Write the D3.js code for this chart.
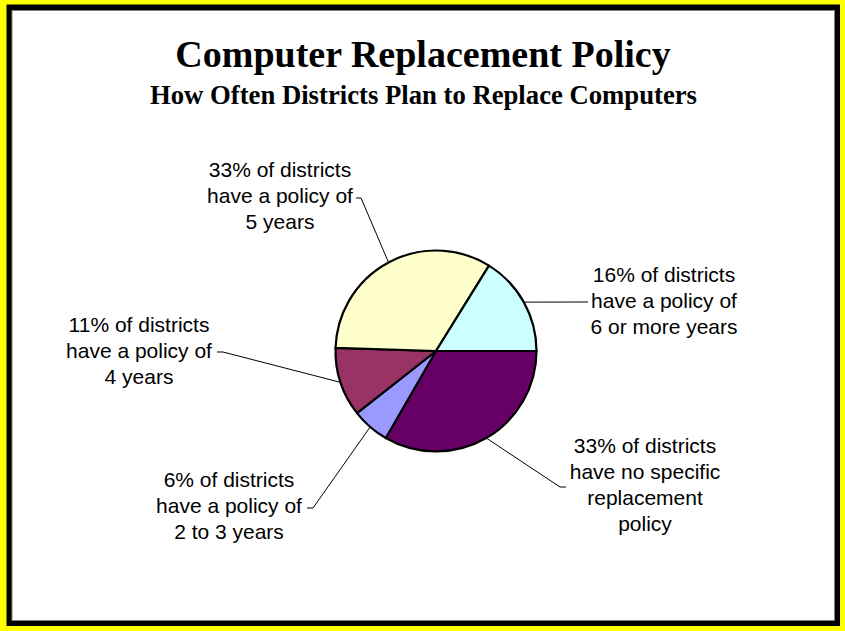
<!DOCTYPE html>
<html><head><meta charset="utf-8">
<script src="https://cdn.jsdelivr.net/npm/d3@7"></script>
<style>html,body{margin:0;padding:0;background:#ffff00;}svg{display:block;}</style>
</head><body>
<svg id="chart" width="845" height="631"></svg>
<script>
// ---- data ----
const categories = ["No specific policy", "2 to 3 years", "4 years", "5 years", "6 or more years"];
const percents = [33, 6, 11, 33, 16];
const labelLines = [
  ["33% of districts", "have no specific", "replacement", "policy"],
  ["6% of districts", "have a policy of", "2 to 3 years"],
  ["11% of districts", "have a policy of", "4 years"],
  ["33% of districts", "have a policy of", "5 years"],
  ["16% of districts", "have a policy of", "6 or more years"]
];
const colors = ["#660066", "#9999ff", "#993366", "#ffffcc", "#ccffff"];
const title = "Computer Replacement Policy";
const subtitle = "How Often Districts Plan to Replace Computers";

// ---- layout (label placement) ----
const labelLayout = [
  {x: 645, y: 453, elbow: [560, 487], end: [566, 487]},
  {x: 229, y: 487, elbow: [313, 508], end: [307, 508]},
  {x: 139, y: 332, elbow: [223, 352], end: [217, 352]},
  {x: 280, y: 177, elbow: [361, 198], end: [356, 198]},
  {x: 664, y: 282, elbow: [588, 302], end: [588, 302]}
];

const svg = d3.select("#chart");
svg.append("rect").attr("x",0).attr("y",0).attr("width",845).attr("height",631).attr("fill","#ffff00");
svg.append("rect").attr("x",6.5).attr("y",4.5).attr("width",833.5).attr("height",621.5).attr("fill","#000");
svg.append("rect").attr("x",12).attr("y",10.5).attr("width",822.5).attr("height",610).attr("fill","#fff")
  .attr("stroke","#808080").attr("stroke-width",1);

svg.append("text").attr("x",423).attr("y",67).attr("text-anchor","middle")
  .attr("font-family","'Liberation Serif','Times New Roman',serif").attr("font-weight","bold")
  .attr("font-size",38).text(title);
svg.append("text").attr("x",423.5).attr("y",104).attr("text-anchor","middle")
  .attr("font-family","'Liberation Serif','Times New Roman',serif").attr("font-weight","bold")
  .attr("font-size",26.7).text(subtitle);

const cx = 436, cy = 351, r = 100.5;
const pie = d3.pie().sort(null).value(d => d).startAngle(Math.PI/2).endAngle(Math.PI/2 + 2*Math.PI);
const arcs = pie(percents);
const arc = d3.arc().innerRadius(0).outerRadius(r);
const edgeArc = d3.arc().innerRadius(r).outerRadius(r);

const g = svg.append("g").attr("transform", `translate(${cx},${cy})`);
g.selectAll("path.slice").data(arcs).join("path").attr("class","slice")
  .attr("d", arc).attr("fill", (d,i) => colors[i])
  .attr("stroke","#000").attr("stroke-width",2.2).attr("stroke-linejoin","round");

// leader lines
const line = d3.line();
arcs.forEach((a, i) => {
  const c = edgeArc.centroid(a);
  const p0 = [cx + c[0], cy + c[1]];
  const L = labelLayout[i];
  svg.append("path").attr("d", line([p0, L.elbow, L.end]))
    .attr("fill","none").attr("stroke","#000").attr("stroke-width",1);
});

// labels
labelLines.forEach((lines, i) => {
  const L = labelLayout[i];
  const t = svg.append("text").attr("text-anchor","middle")
    .attr("font-family","'Liberation Sans',Arial,sans-serif").attr("font-size",21)
    .attr("fill","#000");
  lines.forEach((s, k) => {
    t.append("tspan").attr("x", L.x).attr("y", L.y + k*26).text(s);
  });
});
</script>
</body></html>
